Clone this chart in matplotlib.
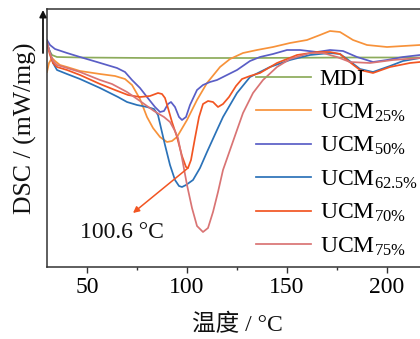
import matplotlib
matplotlib.use("Agg")
import matplotlib.pyplot as plt
from matplotlib.ticker import MultipleLocator

plt.rcParams['font.family'] = ['Liberation Serif', 'Noto Sans CJK SC']
plt.rcParams['mathtext.fontset'] = 'custom'
plt.rcParams['mathtext.rm'] = 'Liberation Serif'
plt.rcParams['mathtext.it'] = 'Liberation Serif:italic'
plt.rcParams['mathtext.bf'] = 'Liberation Serif:bold'
plt.rcParams['mathtext.default'] = 'rm'

# ---- data (temperature in degC, DSC heat flow in arbitrary units, exo up) ----
mdi_T = [30, 31, 32.5, 35, 46.5, 81.5, 131.5, 181.5, 216.5]
mdi_y = [2.24, 2.17, 2.12, 2.10, 2.095, 2.09, 2.09, 2.095, 2.095]

ucm25_T = [30, 31, 32.5, 34, 36.5, 40, 46.5, 56.5, 64, 69, 72.5, 76.5, 80, 83, 86.5, 90,
           92.5, 95, 100, 105, 110, 116.5, 121.5, 128, 135, 143, 151.5, 160, 166.5, 171.5,
           176.5, 183, 190, 200, 216.5]
ucm25_y = [1.95, 2.04, 2.09, 2.06, 2.02, 2.00, 1.96, 1.93, 1.91, 1.88, 1.82, 1.68, 1.50, 1.39,
           1.30, 1.25, 1.26, 1.30, 1.47, 1.67, 1.84, 2.00, 2.08, 2.14, 2.17, 2.20, 2.24, 2.27,
           2.32, 2.36, 2.35, 2.27, 2.22, 2.20, 2.22]

ucm50_T = [30, 31.5, 34, 40, 46.5, 55, 65, 69, 72.5, 76.5, 80, 84, 86.5, 88.5, 90.5, 92, 94,
           96, 97.5, 99.5, 101.5, 105, 108, 111.5, 115, 118, 125, 131.5, 136.5, 143, 150,
           156.5, 165, 171.5, 178, 185, 193, 200, 208, 216.5]
ucm50_y = [2.27, 2.22, 2.18, 2.14, 2.10, 2.05, 1.99, 1.95, 1.87, 1.79, 1.70, 1.60, 1.55, 1.56,
           1.63, 1.65, 1.60, 1.50, 1.47, 1.50, 1.62, 1.77, 1.82, 1.85, 1.87, 1.90, 1.97, 2.06,
           2.10, 2.13, 2.17, 2.17, 2.15, 2.17, 2.16, 2.10, 2.05, 2.07, 2.10, 2.12]

ucm625_T = [30, 31.5, 33, 35, 40, 46.5, 56.5, 65.5, 70, 75, 80, 83.5, 85.5, 87, 89, 91.5, 94,
            96, 97.5, 99.5, 103, 106.5, 110, 115, 118, 125, 131.5, 141.5, 151.5, 161.5, 171.5,
            176.5, 180, 186.5, 193, 201.5, 208, 216.5]
ucm625_y = [2.24, 2.15, 2.04, 1.97, 1.93, 1.88, 1.79, 1.70, 1.65, 1.62, 1.60, 1.58, 1.52, 1.39,
            1.22, 1.02, 0.87, 0.81, 0.80, 0.82, 0.87, 0.99, 1.15, 1.37, 1.50, 1.74, 1.90, 2.00,
            2.07, 2.12, 2.14, 2.13, 2.08, 1.98, 1.95, 2.01, 2.06, 2.09]

ucm70_T = [30, 31.5, 33, 35, 40, 46.5, 56.5, 64, 70.5, 76.5, 81.5, 85.5, 87.5, 89, 90.5, 92.5,
           95, 97.5, 99.5, 100.5, 102, 104, 106, 108, 110.5, 113, 115.5, 118, 121, 124.5,
           127.5, 131.5, 136.5, 145, 155, 165, 171.5, 176.5, 180, 186.5, 193, 201.5, 211.5,
           216.5]
ucm70_y = [2.23, 2.12, 2.04, 2.00, 1.97, 1.92, 1.83, 1.77, 1.72, 1.70, 1.71, 1.74, 1.73, 1.69,
           1.59, 1.45, 1.30, 1.11, 1.00, 0.99, 1.07, 1.29, 1.50, 1.63, 1.66, 1.65, 1.60, 1.63,
           1.70, 1.81, 1.88, 1.91, 1.94, 2.04, 2.12, 2.15, 2.15, 2.13, 2.07, 1.97, 1.94, 2.00,
           2.04, 2.05]

ucm75_T = [30, 31.5, 33, 35, 40, 46.5, 56.5, 62.5, 70, 76.5, 83.5, 88.5, 91.5, 94, 95.5, 97.5,
           100, 102.5, 105, 108, 110.5, 113, 115.5, 118, 121.5, 125, 128, 133, 138, 145,
           151.5, 161.5, 168, 175, 181.5, 191.5, 203, 216.5]
ucm75_y = [2.25, 2.14, 2.06, 2.02, 1.99, 1.95, 1.87, 1.83, 1.75, 1.66, 1.56, 1.50, 1.45, 1.36,
           1.29, 1.09, 0.82, 0.59, 0.41, 0.35, 0.39, 0.55, 0.75, 0.97, 1.17, 1.37, 1.54, 1.74,
           1.87, 2.00, 2.08, 2.14, 2.14, 2.10, 2.05, 2.04, 2.07, 2.09]

series = [
    (mdi_T, mdi_y, 'MDI', '#8cab5b'),
    (ucm25_T, ucm25_y, 'UCM$_{25\\%}$', '#f7923a'),
    (ucm50_T, ucm50_y, 'UCM$_{50\\%}$', '#5a5ec6'),
    (ucm625_T, ucm625_y, 'UCM$_{62.5\\%}$', '#2b72b8'),
    (ucm70_T, ucm70_y, 'UCM$_{70\\%}$', '#f25522'),
    (ucm75_T, ucm75_y, 'UCM$_{75\\%}$', '#d97474'),
]

peak_T, peak_y = 100.5, 0.99
peak_label = '100.6 °C'

W, H = 420, 339
fig = plt.figure(figsize=(W / 100, H / 100), dpi=100)
ax = fig.add_axes([47 / W, (H - 267) / H, (W - 47) / W, (267 - 9) / H])

for T, y, lab, c in series:
    ax.plot(T, y, color=c, lw=1.25, label=lab)

ax.set_xlim(30, 216.5)
ax.set_ylim(0, 2.58)
ax.xaxis.set_major_locator(MultipleLocator(50))
ax.xaxis.set_minor_locator(MultipleLocator(25))
ax.set_yticks([])
ax.tick_params(axis='x', which='major', direction='out', length=4, width=1, labelsize=17,
               pad=3, color='#333333')
ax.tick_params(axis='x', which='minor', direction='out', length=2.5, width=1, color='#333333')
for s in ['left', 'bottom', 'top']:
    ax.spines[s].set_linewidth(1.1)
    ax.spines[s].set_color('#333333')
ax.spines['right'].set_visible(False)

# peak annotation
ax.annotate('', xy=(73, 0.54), xytext=(peak_T, peak_y),
            arrowprops=dict(arrowstyle='-|>', color='#f25522', lw=1.1,
                            mutation_scale=9, shrinkA=0, shrinkB=0))
ax.text(46.5, 0.34, peak_label, fontsize=17, ha='left', va='center', color='#111111')

leg = ax.legend(loc='upper left', bbox_to_anchor=(0.56, 0.77), frameon=False,
                fontsize=17, handlelength=2.35, handletextpad=0.35, labelspacing=0.48,
                borderpad=0, borderaxespad=0)

# exo-up arrow on the y axis
ax.annotate('', xy=(43, H - 10), xytext=(43, H - 53), xycoords='figure pixels',
            textcoords='figure pixels',
            arrowprops=dict(arrowstyle='-|>', color='#111111', lw=1.3,
                            mutation_scale=10, shrinkA=0, shrinkB=0))

fig.text(25 / W, (H - 128) / H, 'DSC / (mW/mg)', rotation=90, fontsize=18.5,
         ha='center', va='center', color='#111111')
fig.text(237 / W, (H - 325) / H, '温度 / °C', fontsize=17, ha='center', va='center',
         color='#111111')

fig.savefig('out.png', dpi=100)
